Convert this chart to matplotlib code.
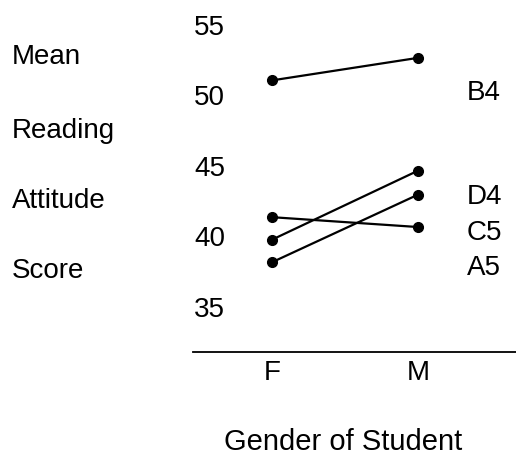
import matplotlib
matplotlib.use("Agg")
import matplotlib.pyplot as plt

plt.rcParams['font.family'] = ['Liberation Sans', 'DejaVu Sans']

genders = ["F", "M"]
series_names = ["B4", "C5", "A5", "D4"]
series_values = {
    "B4": [51.0, 52.6],
    "C5": [41.3, 40.6],
    "A5": [39.7, 44.6],
    "D4": [38.1, 42.9],
}
yticks = [35, 40, 45, 50, 55]
right_labels = ["B4", "D4", "C5", "A5"]
right_label_y = [50.2, 42.8, 40.25, 37.8]
left_labels = ["Mean", "Reading", "Attitude", "Score"]

FS = 20
W, H = 516, 460
fig = plt.figure(figsize=(W / 100, H / 100), dpi=100)
ax = fig.add_axes([193 / W, 1 - 353 / H, (516 - 193) / W, (353 - 10) / H])

x = list(range(len(genders)))
for name in series_names:
    ax.plot(x, series_values[name], color="black", lw=1.6, marker="o", ms=7,
            solid_capstyle="round")

for lab, yv in zip(right_labels, right_label_y):
    ax.text(1.335, yv, lab, fontsize=FS, ha="left", va="center")

ax.set_xlim(-0.54, 1.67)
ax.set_ylim(55 - (353 - 25) / 14.1, 55 + 15 / 14.1)
ax.set_xticks(x)
ax.set_xticklabels(genders, fontsize=FS)
ax.set_yticks(yticks)
ax.set_yticklabels([str(v) for v in yticks], fontsize=FS)
ax.tick_params(axis="y", length=0, pad=-23)
ax.tick_params(axis="x", length=0, pad=5)
for s in ["top", "right", "left"]:
    ax.spines[s].set_visible(False)
ax.spines["bottom"].set_linewidth(1.3)
ax.set_xlabel("Gender of Student", fontsize=21, labelpad=30)
ax.xaxis.set_label_coords(0.465, -0.22)

ys = [57, 131, 201, 271]
for lab, yp in zip(left_labels, ys):
    fig.text(12 / W, 1 - yp / H, lab, fontsize=FS, ha="left", va="center")

fig.savefig("out.png", dpi=100)
